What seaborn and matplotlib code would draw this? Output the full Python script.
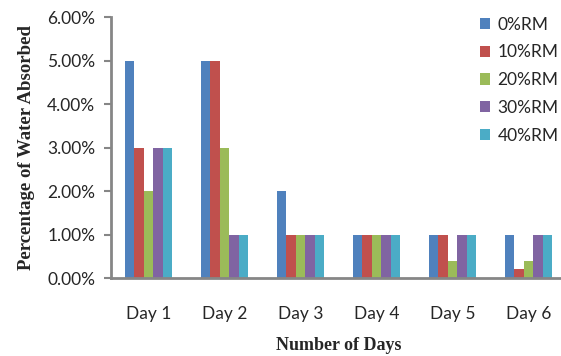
import pandas as pd
import matplotlib.pyplot as plt
import seaborn as sns
from matplotlib.ticker import FuncFormatter

days = ["Day 1", "Day 2", "Day 3", "Day 4", "Day 5", "Day 6"]
mixes = ["0%RM", "10%RM", "20%RM", "30%RM", "40%RM"]
rm0 = [5.0, 5.0, 2.0, 1.0, 1.0, 1.0]
rm10 = [3.0, 5.0, 1.0, 1.0, 1.0, 0.2]
rm20 = [2.0, 3.0, 1.0, 1.0, 0.4, 0.4]
rm30 = [3.0, 1.0, 1.0, 1.0, 1.0, 1.0]
rm40 = [3.0, 1.0, 1.0, 1.0, 1.0, 1.0]
colors = ["#4F81BD", "#C0504D", "#9BBB59", "#8064A2", "#4BACC6"]

rows = []
for mix, vals in zip(mixes, [rm0, rm10, rm20, rm30, rm40]):
    for d, v in zip(days, vals):
        rows.append({"day": d, "mix": mix, "value": v})
df = pd.DataFrame(rows)

sns.set_style("white")
plt.rcParams["font.family"] = ["Lato", "DejaVu Sans"]

fig = plt.figure(figsize=(5.61, 3.56), dpi=100)
ax = fig.add_axes([0.197, 0.219, 0.813, 0.733])

sns.barplot(data=df, x="day", y="value", hue="mix", order=days, hue_order=mixes,
            palette=colors, saturation=1, width=0.62, linewidth=0, ax=ax)

ax.set_xlim(-0.5, 5.5)
ax.set_ylim(0, 6)
ax.set_yticks([0, 1, 2, 3, 4, 5, 6])
ax.yaxis.set_major_formatter(FuncFormatter(lambda v, p: f"{v:.2f}%"))
ax.tick_params(axis="y", length=5, width=1.5, color="#868686", left=True,
               labelsize=12.5, pad=6)
ax.tick_params(axis="x", length=0, labelsize=12.5, pad=20)
for s in ["top", "right"]:
    ax.spines[s].set_visible(False)
for s in ["left", "bottom"]:
    ax.spines[s].set_color("#868686")
    ax.spines[s].set_linewidth(2)

ax.set_xlabel("Number of Days", family="Liberation Serif", fontweight="bold",
              fontsize=13, labelpad=11)
ax.set_ylabel("Percentage of Water Absorbed", family="Liberation Serif",
              fontweight="bold", fontsize=13.5, labelpad=9)

handles, labels = ax.get_legend_handles_labels()
ax.legend(handles, labels, loc="upper left", bbox_to_anchor=(0.84, 0.978),
          bbox_transform=fig.transFigure, frameon=False, fontsize=12.5,
          handlelength=0.6, handleheight=0.6, handletextpad=0.4,
          labelspacing=0.68, borderpad=0)

fig.savefig("out.png", dpi=100)
